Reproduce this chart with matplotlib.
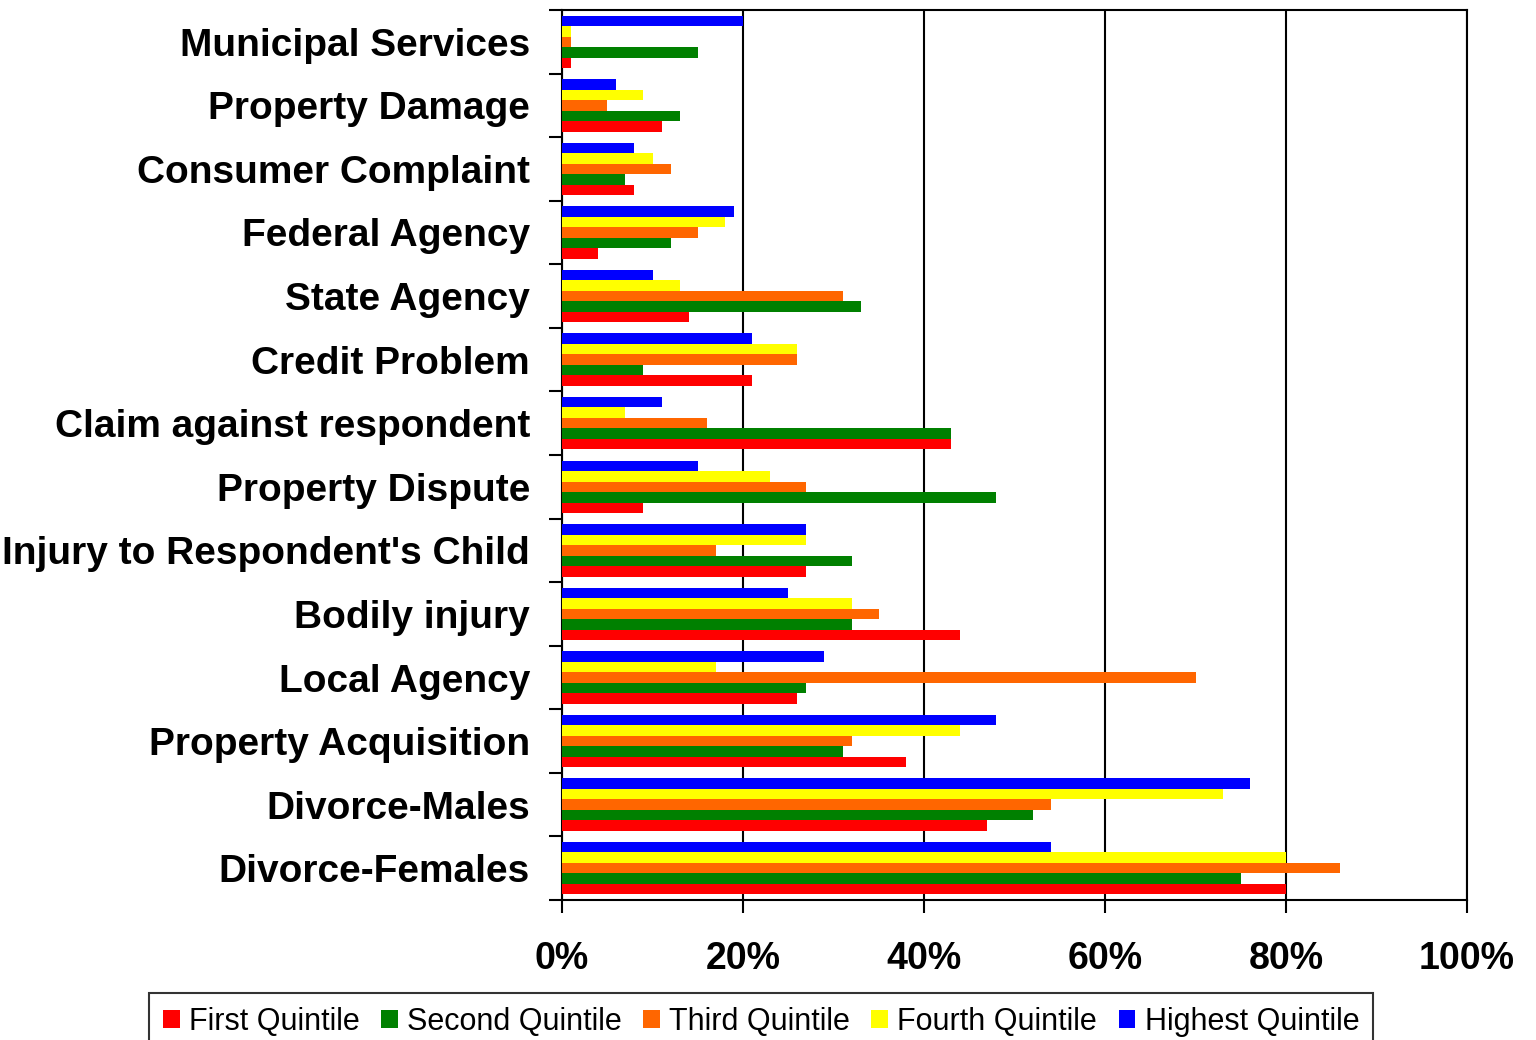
import numpy as np
import matplotlib
matplotlib.use('agg')
import matplotlib.pyplot as plt
from matplotlib.ticker import FixedLocator, PercentFormatter

plt.rcParams['font.family'] = ['Liberation Sans', 'DejaVu Sans']

categories = ["Municipal Services", "Property Damage", "Consumer Complaint",
              "Federal Agency", "State Agency", "Credit Problem",
              "Claim against respondent", "Property Dispute",
              "Injury to Respondent's Child", "Bodily injury", "Local Agency",
              "Property Acquisition", "Divorce-Males", "Divorce-Females"]

first   = [1, 11, 8, 4, 14, 21, 43, 9, 27, 44, 26, 38, 47, 80]
second  = [15, 13, 7, 12, 33, 9, 43, 48, 32, 32, 27, 31, 52, 75]
third   = [1, 5, 12, 15, 31, 26, 16, 27, 17, 35, 70, 32, 54, 86]
fourth  = [1, 9, 10, 18, 13, 26, 7, 23, 27, 32, 17, 44, 73, 80]
highest = [20, 6, 8, 19, 10, 21, 11, 15, 27, 25, 29, 48, 76, 54]

series = [("First Quintile", first, "#FF0000"),
          ("Second Quintile", second, "#008000"),
          ("Third Quintile", third, "#FF6600"),
          ("Fourth Quintile", fourth, "#FFFF00"),
          ("Highest Quintile", highest, "#0000FF")]

fig = plt.figure(figsize=(15.36, 10.4), dpi=100)
ax = fig.add_axes([562/1536, 140/1040, 905/1536, 890/1040])

y = np.arange(len(categories))
h = 0.165
offsets = [2, 1, 0, -1, -2]
for (name, vals, col), off in zip(series, offsets):
    ax.barh(y + off*h, vals, height=h, color=col, label=name, zorder=3)

ax.set_ylim(len(categories) - 0.5, -0.5)
ax.set_xlim(0, 100)

ax.set_yticks(y)
ax.set_yticklabels(categories, fontsize=28, fontweight='bold')
ax.yaxis.set_minor_locator(FixedLocator(np.arange(-0.5, len(categories), 1)))
ax.tick_params(axis='y', which='major', length=0, pad=23)
ax.tick_params(axis='y', which='minor', length=9.5, width=1.5, direction='out')

ax.set_xticks([0, 20, 40, 60, 80, 100])
ax.xaxis.set_major_formatter(PercentFormatter(decimals=0))
ax.tick_params(axis='x', which='major', length=9.5, width=1.5, direction='out',
               labelsize=27, pad=20)
for lbl in ax.get_xticklabels():
    lbl.set_fontweight('bold')

ax.grid(axis='x', color='black', linewidth=1.5, zorder=1)
for s in ax.spines.values():
    s.set_linewidth(1.5)
    s.set_color('black')

leg = fig.legend(loc='upper left', bbox_to_anchor=(134/1536, 1 - 978/1040),
                 ncol=5, fontsize=22, frameon=True, fancybox=False,
                 edgecolor='black', handlelength=0.55, handleheight=0.55,
                 handletextpad=0.3, columnspacing=0.7, borderpad=0.45)
leg.get_frame().set_linewidth(1.5)

plt.savefig("out.png", dpi=100)
plt.close()
